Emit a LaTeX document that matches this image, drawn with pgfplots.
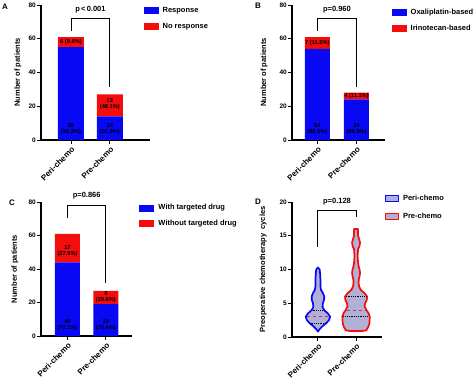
\documentclass[border=0pt]{standalone}
\usepackage{pgfplots}
\pgfplotsset{compat=1.18}
\usepackage{fontspec}
\setmainfont{Liberation Sans}
\definecolor{bblue}{RGB}{8,8,245}
\definecolor{rred}{RGB}{245,12,12}
\definecolor{vfill}{RGB}{178,176,214}
\definecolor{medc}{RGB}{190,60,90}
\tikzset{bl/.style={font=\bfseries\fontsize{5.7}{6.2}\selectfont, align=center, inner sep=0pt}}
\pgfplotsset{
  panel/.style={
    scale only axis,
    axis x line*=bottom, axis y line*=left,
    axis line style={line width=1.1pt},
    tick style={line width=0.9pt, black},
    tick align=outside, major tick length=4pt,
    /pgf/number format/assume math mode=true,
    yticklabel style={font=\bfseries\fontsize{6.5}{7}\selectfont, inner sep=1pt},
    xticklabel style={font=\bfseries\fontsize{8}{9}\selectfont, rotate=45, anchor=north east, inner sep=1.5pt},
    xtick={0,1}, xticklabels={Peri-chemo,Pre-chemo},
    clip=false,
    legend cell align=left,
    legend style={draw=none, fill=none, inner sep=0pt, row sep=7pt,
      font=\bfseries\fontsize{7.5}{8}\selectfont,
      nodes={inner sep=1pt}, anchor=north west},
    legend style={/tikz/every odd column/.append style={column sep=3pt}},
  },
  bars/.style={panel, ybar stacked, ymin=0, ymax=80, ytick={0,20,40,60,80}},
  ylab/.style={every axis y label/.style={at={(axis description cs:#1,0.5)}, rotate=90, anchor=center,
     font=\bfseries\fontsize{7.5}{8}\selectfont}},
  boxleg/.style={legend image code/.code={\fill[##1] (0pt,-3.5pt) rectangle (15pt,3.5pt);}},
  violinleg/.style={legend image code/.code={\draw[##1, line width=1.3pt] (0.6pt,-2.8pt) rectangle (13.4pt,2.8pt);}},
}
\begin{document}
\begin{tikzpicture}[x=1pt,y=1pt]
\path[use as bounding box] (0pt,0pt) rectangle (474pt,379pt);
% ---------------- A
\begin{axis}[bars, at={(41pt,239pt)}, anchor=south west, width=109pt, height=135pt,
  xmin=-0.77, xmax=2.03, bar width=26pt,
  ylabel={Number of patients}, ylab=-0.211,
  legend style={at={(axis description cs:0.94,0.99)}}]
\addplot[fill=bblue, draw=none, boxleg] coordinates {(0,55) (1,14)};
\addplot[fill=rred, draw=none, boxleg] coordinates {(0,6) (1,13)};
\legend{Response, No response}
\coordinate (A1) at (axis cs:0,6.5);
\coordinate (A2) at (axis cs:1,6.5);
\coordinate (A3) at (axis cs:0,58);
\coordinate (A4) at (axis cs:1,21.3);
\draw[line width=0.9pt] (axis cs:0,64.6) -- (axis cs:0,72.3) -- (axis cs:1,72.3) -- (axis cs:1,31.4);
\node[font=\bfseries\fontsize{7.5}{8}\selectfont] at (axis cs:0.5,77.5) {p\,<\,0.001};
\end{axis}
\node[bl] at (A1) {55\\(90.2\%)};
\node[bl] at (A2) {14\\(51.9\%)};
\node[bl] at (A3) {6 (9.8\%)};
\node[bl] at (A4) {13\\(48.1\%)};
\node[font=\bfseries\fontsize{8}{9}\selectfont] at (5pt,372pt) {A};
% ---------------- B
\begin{axis}[bars, at={(292pt,239pt)}, anchor=south west, width=93pt, height=135pt,
  xmin=-0.65, xmax=1.73, bar width=25pt,
  ylabel={Number of patients}, ylab=-0.298,
  legend style={at={(axis description cs:1.07,0.98)}}]
\addplot[fill=bblue, draw=none, boxleg] coordinates {(0,54) (1,24)};
\addplot[fill=rred, draw=none, boxleg] coordinates {(0,7) (1,4)};
\legend{Oxaliplatin-based, Irinotecan-based}
\coordinate (B1) at (axis cs:0,6.5);
\coordinate (B2) at (axis cs:1,6.5);
\coordinate (B3) at (axis cs:0,57.5);
\coordinate (B4) at (axis cs:1,26);
\draw[line width=0.9pt] (axis cs:0,64.6) -- (axis cs:0,72.3) -- (axis cs:1,72.3) -- (axis cs:1,31.4);
\node[font=\bfseries\fontsize{7.5}{8}\selectfont] at (axis cs:0.5,77.5) {p=0.960};
\end{axis}
\node[bl] at (B1) {54\\(88.5\%)};
\node[bl] at (B2) {24\\(88.9\%)};
\node[bl] at (B3) {7 (11.5\%)};
\node[bl] at (B4) {4 (11.1\%)};
\node[font=\bfseries\fontsize{8}{9}\selectfont] at (258pt,373pt) {B};
% ---------------- C
\begin{axis}[bars, at={(41pt,43pt)}, anchor=south west, width=91pt, height=134pt,
  xmin=-0.69, xmax=1.68, bar width=25pt,
  ylabel={Number of patients}, ylab=-0.286,
  legend style={at={(axis description cs:1.08,0.99)}}]
\addplot[fill=bblue, draw=none, boxleg] coordinates {(0,44) (1,19)};
\addplot[fill=rred, draw=none, boxleg] coordinates {(0,17) (1,8)};
\legend{With targeted drug, Without targeted drug}
\coordinate (C1) at (axis cs:0,6.3);
\coordinate (C2) at (axis cs:1,6.3);
\coordinate (C3) at (axis cs:0,50.5);
\coordinate (C4) at (axis cs:1,23);
\draw[line width=0.9pt] (axis cs:0,70.4) -- (axis cs:0,78.2) -- (axis cs:1,78.2) -- (axis cs:1,31.6);
\node[font=\bfseries\fontsize{7.5}{8}\selectfont] at (axis cs:0.5,83.5) {p=0.866};
\end{axis}
\node[bl] at (C1) {44\\(72.1\%)};
\node[bl] at (C2) {19\\(70.4\%)};
\node[bl] at (C3) {17\\(27.9\%)};
\node[bl] at (C4) {8\\(29.6\%)};
\node[font=\bfseries\fontsize{8}{9}\selectfont] at (12pt,176pt) {C};
% ---------------- D
\begin{axis}[panel, violinleg, at={(292pt,42pt)}, anchor=south west, width=90pt, height=135pt,
  xmin=-0.68, xmax=1.68, ymin=0, ymax=20, ytick={0,5,10,15,20},
  ylabel={Preoperative chemotherapy\ \ cycles}, ylab=-0.32,
  legend style={at={(axis description cs:1.03,1.06)}, row sep=9pt}]
\addplot[fill=vfill, draw=bblue, line width=1.7pt, line join=round] coordinates {
 (0,0.8) (0.05,1.2) (0.12,1.6) (0.21,2.0) (0.29,2.5) (0.32,3.0) (0.26,3.5) (0.16,4.0)
 (0.12,4.5) (0.13,5.0) (0.16,5.5) (0.165,6.0) (0.13,6.5) (0.08,7.0) (0.066,7.5)
 (0.066,8.5) (0.055,9.5) (0.045,10.0) (0,10.3)
 (-0.045,10.0) (-0.055,9.5) (-0.066,8.5) (-0.066,7.5) (-0.08,7.0) (-0.13,6.5)
 (-0.165,6.0) (-0.16,5.5) (-0.13,5.0) (-0.12,4.5) (-0.16,4.0) (-0.26,3.5) (-0.32,3.0)
 (-0.29,2.5) (-0.21,2.0) (-0.12,1.6) (-0.05,1.2)} --cycle;
\addplot[fill=vfill, draw=rred, line width=1.7pt, line join=round] coordinates {
 (1.18,0.9) (1.27,1.0) (1.32,1.5) (1.35,2.0) (1.36,3.0) (1.33,3.5) (1.27,4.0)
 (1.22,4.6) (1.24,5.0) (1.28,5.5) (1.29,6.0) (1.22,6.5) (1.12,7.0) (1.08,7.5)
 (1.066,8.0) (1.07,8.5) (1.092,9.0) (1.105,9.5) (1.092,10.0) (1.066,10.5) (1.053,11.0)
 (1.04,12.0) (1.053,13.0) (1.092,13.5) (1.105,14.0) (1.08,14.5) (1.053,15.0) (1.053,16.0)
 (0.947,16.0) (0.947,15.0) (0.92,14.5) (0.895,14.0) (0.908,13.5) (0.947,13.0) (0.96,12.0)
 (0.947,11.0) (0.934,10.5) (0.908,10.0) (0.895,9.5) (0.908,9.0) (0.93,8.5) (0.934,8.0)
 (0.92,7.5) (0.88,7.0) (0.78,6.5) (0.71,6.0) (0.72,5.5) (0.76,5.0) (0.78,4.6)
 (0.73,4.0) (0.67,3.5) (0.64,3.0) (0.65,2.0) (0.68,1.5) (0.73,1.0) (0.82,0.9)} --cycle;
\legend{Peri-chemo, Pre-chemo}
% quartiles and medians
\addplot[forget plot, black, densely dotted, line width=0.8pt] coordinates {(-0.19,2) (0.19,2)};
\addplot[forget plot, black, densely dotted, line width=0.8pt] coordinates {(-0.14,4) (0.14,4)};
\addplot[forget plot, medc, dashed, line width=0.8pt] coordinates {(-0.29,3) (0.29,3)};
\addplot[forget plot, black, densely dotted, line width=0.8pt] coordinates {(0.67,3) (1.33,3)};
\addplot[forget plot, black, densely dotted, line width=0.8pt] coordinates {(0.73,6) (1.27,6)};
\addplot[forget plot, medc, dashed, line width=0.8pt] coordinates {(0.75,4) (1.25,4)};
\draw[line width=0.9pt] (axis cs:0,13.4) -- (axis cs:0,18.7) -- (axis cs:1,18.7) -- (axis cs:1,17.8);
\node[font=\bfseries\fontsize{7.5}{8}\selectfont] at (axis cs:0.5,20.1) {p=0.128};
\end{axis}
\node[font=\bfseries\fontsize{8}{9}\selectfont] at (258pt,177pt) {D};
\end{tikzpicture}
\end{document}
